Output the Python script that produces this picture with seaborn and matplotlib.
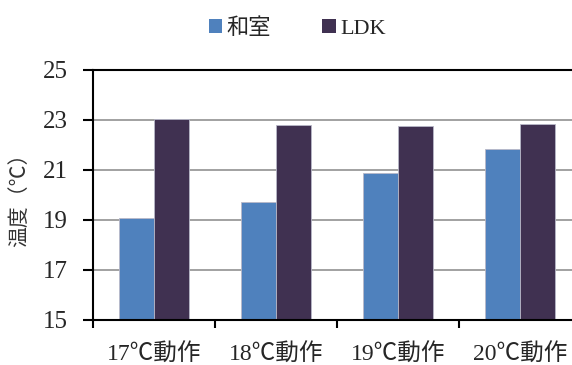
import matplotlib
matplotlib.use("Agg")
import matplotlib.pyplot as plt
import seaborn as sns
import pandas as pd
from matplotlib.patches import Patch

categories = ["17℃動作", "18℃動作", "19℃動作", "20℃動作"]
series_names = ["和室", "LDK"]
washitsu = [19.07, 19.73, 20.87, 21.84]
ldk = [23.03, 22.79, 22.77, 22.83]
yticks = [15, 17, 19, 21, 23, 25]

df = pd.DataFrame({
    "cat": categories * 2,
    "series": [series_names[0]] * 4 + [series_names[1]] * 4,
    "value": washitsu + ldk,
})

sns.set_theme(style="white")
plt.rcParams["font.family"] = ["Liberation Serif", "Noto Sans CJK JP", "DejaVu Sans"]

fig = plt.figure(figsize=(5.72, 3.65), dpi=100)
ax = fig.add_axes([93 / 572, 45 / 365, 488 / 572, 250 / 365])

colors = ["#4F81BD", "#403151"]
sns.barplot(data=df, x="cat", y="value", hue="series", palette=colors,
            width=0.574, gap=0, ax=ax, edgecolor="#b8b8c8", linewidth=0.6,
            saturation=1, legend=False)

ax.set_ylim(15, 25)
ax.set_xlim(-0.5, 3.5)
ax.set_yticks(yticks)
ax.set_yticklabels([str(v) for v in yticks], fontsize=18)
ax.set_xticks(range(4))
ax.set_xticklabels(categories, fontsize=17)
ax.tick_params(axis="x", length=0, pad=17)
ax.set_xticks([-0.5, 0.5, 1.5, 2.5, 3.5], minor=True)
ax.tick_params(axis="x", which="minor", length=6, width=1.5, color="black", direction="out", bottom=True)
ax.tick_params(axis="y", length=7, width=1.5, color="black", direction="out", left=True, pad=11)

for y in [17, 19, 21, 23]:
    ax.axhline(y, color="#9a9a9a", linewidth=1.3, zorder=0)

for s in ["left", "bottom", "top"]:
    ax.spines[s].set_visible(True)
    ax.spines[s].set_color("black")
    ax.spines[s].set_linewidth(1.5)
ax.spines["right"].set_visible(False)

ax.set_xlabel("")
ax.set_ylabel("温度（℃）", fontsize=15, family=["Noto Sans CJK JP"], color="#333333")
ax.yaxis.set_label_coords(-0.128, 0.5)

handles = [Patch(facecolor=c, edgecolor="none") for c in colors]
fig.legend(handles, series_names, loc="upper center", bbox_to_anchor=(0.52, 1.005),
           ncol=2, frameon=False, fontsize=16, handlelength=0.6, handleheight=0.6,
           handletextpad=0.2, columnspacing=2.3)

fig.savefig("out.png", dpi=100)
